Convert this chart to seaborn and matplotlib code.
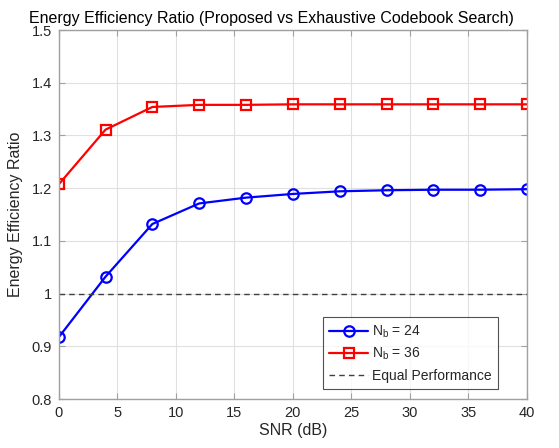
import numpy as np
import pandas as pd
import matplotlib
matplotlib.use("Agg")
import matplotlib.pyplot as plt
import seaborn as sns
from matplotlib.lines import Line2D

snr_db = [0, 4, 8, 12, 16, 20, 24, 28, 32, 36, 40]
ratio_nb24 = [0.917, 1.032, 1.132, 1.171, 1.182, 1.189, 1.194, 1.196, 1.197, 1.197, 1.198]
ratio_nb36 = [1.207, 1.311, 1.354, 1.358, 1.358, 1.359, 1.359, 1.359, 1.359, 1.359, 1.359]
series_labels = ["N$_\\mathregular{b}$ = 24", "N$_\\mathregular{b}$ = 36"]
baseline = 1.0
x_ticks = [0, 5, 10, 15, 20, 25, 30, 35, 40]
y_ticks = [0.8, 0.9, 1.0, 1.1, 1.2, 1.3, 1.4, 1.5]
y_tick_labels = ["0.8", "0.9", "1", "1.1", "1.2", "1.3", "1.4", "1.5"]

sns.set_style("white")
plt.rcParams["font.family"] = ["Liberation Sans", "DejaVu Sans"]
plt.rcParams["mathtext.fontset"] = "custom"
plt.rcParams["mathtext.rm"] = "Liberation Sans"

df = pd.DataFrame({
    "snr": snr_db * 2,
    "ratio": ratio_nb24 + ratio_nb36,
    "config": [series_labels[0]] * len(snr_db) + [series_labels[1]] * len(snr_db),
})

fig = plt.figure(figsize=(5.59, 4.48), dpi=100)
ax = fig.add_axes([58.7 / 559, 1 - 399 / 448, (527 - 58.7) / 559, (399 - 30) / 448])

ms = 7.5
sns.lineplot(data=df, x="snr", y="ratio", hue="config", style="config",
             palette=["#0000ff", "#ff0000"], markers=["o", "s"], dashes=False,
             linewidth=1.6, markersize=ms, markerfacecolor="none",
             markeredgewidth=1.6, ax=ax, legend=False)
for line, col in zip(ax.lines, ["#0000ff", "#ff0000"]):
    line.set_markeredgecolor(col)
    line.set_markerfacecolor("none")

ax.axhline(baseline, color="#404040", linestyle=(0, (4, 3)), linewidth=1.0)

ax.set_xlim(0, 40)
ax.set_ylim(0.8, 1.5)
ax.set_xticks(x_ticks)
ax.set_yticks(y_ticks)
ax.set_yticklabels(y_tick_labels)
ax.grid(True, color="#e0e0e0", linewidth=0.8)
ax.set_axisbelow(True)
for s in ax.spines.values():
    s.set_color("#a0a0a0")
    s.set_linewidth(1.0)
ax.tick_params(direction="in", length=4, color="#a0a0a0", labelsize=10.5,
               labelcolor="#262626", top=True, right=True, bottom=True, left=True, pad=5)

ax.set_xlabel("SNR (dB)", fontsize=11.5, color="#262626", labelpad=2)
ax.set_ylabel("Energy Efficiency Ratio", fontsize=11.5, color="#262626", labelpad=6)
fig.text(271.5 / 559, 1 - 18 / 448,
         "Energy Efficiency Ratio (Proposed vs Exhaustive Codebook Search)",
         fontsize=11.5, color="#000000", ha="center", va="center")

handles = [
    Line2D([], [], color="#0000ff", marker="o", markerfacecolor="none", markersize=ms,
           markeredgewidth=1.6, linewidth=1.6),
    Line2D([], [], color="#ff0000", marker="s", markerfacecolor="none", markersize=ms,
           markeredgewidth=1.6, linewidth=1.6),
    Line2D([], [], color="#404040", linestyle=(0, (4, 3)), linewidth=1.0),
]
leg = ax.legend(handles, series_labels + ["Equal Performance"], loc="lower right",
                bbox_to_anchor=(498 / 559, 1 - 389 / 448), bbox_transform=fig.transFigure,
                fontsize=10, frameon=True, fancybox=False, handlelength=2.8,
                borderpad=0.45, labelspacing=0.45, handletextpad=0.3, borderaxespad=0)
leg.get_frame().set_edgecolor("#262626")
leg.get_frame().set_linewidth(0.8)

fig.savefig("out.png", dpi=100)
